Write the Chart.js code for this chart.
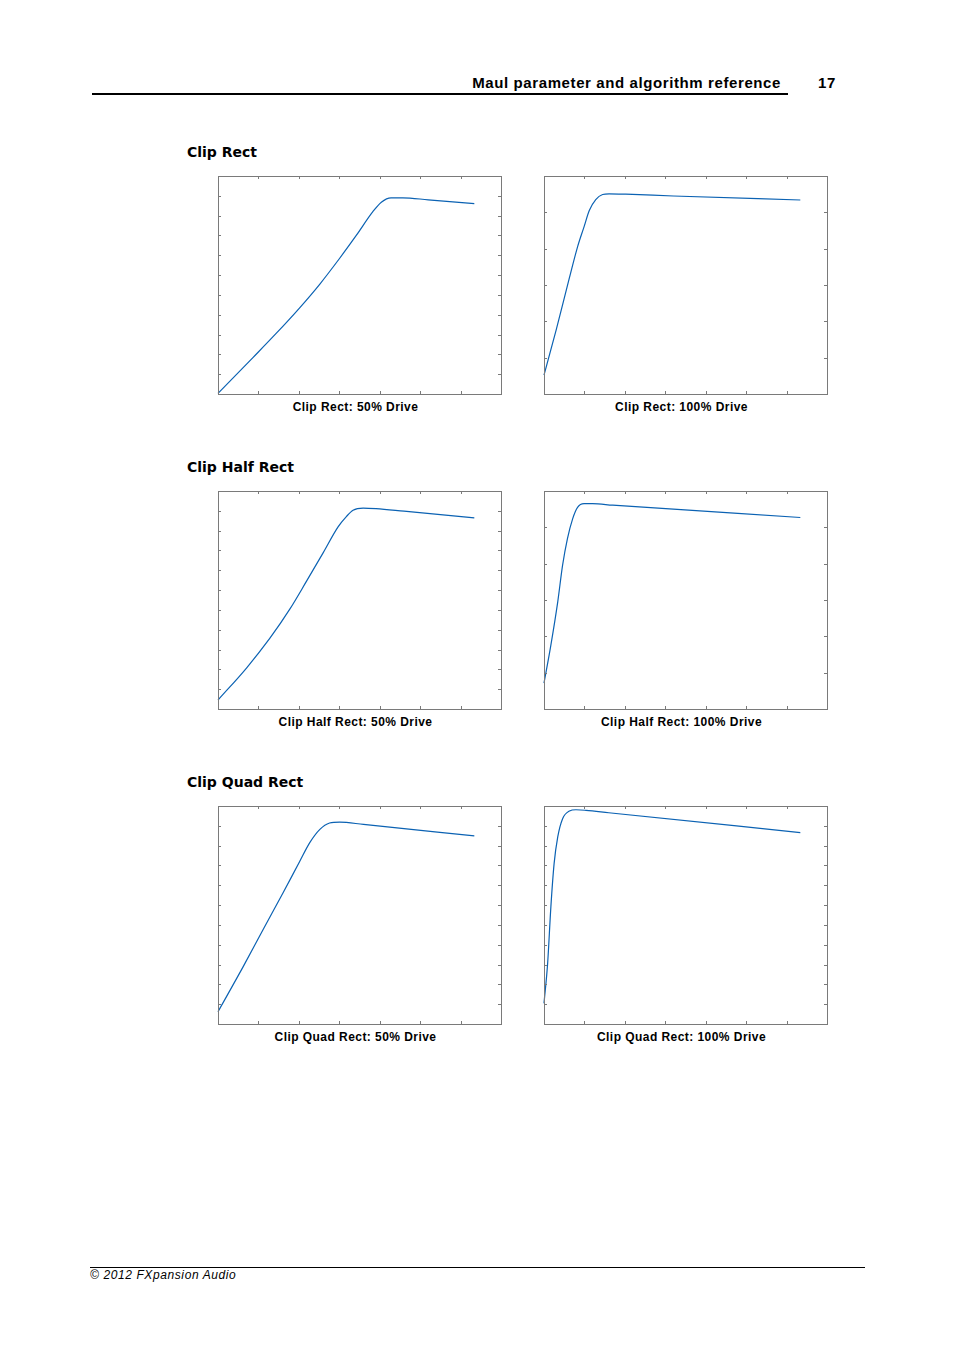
<!DOCTYPE html>
<html>
<head>
<meta charset="utf-8">
<script src="https://cdn.jsdelivr.net/npm/chart.js@4.4.1/dist/chart.umd.min.js"></script>
<style>
  body { margin: 0; background: #fff; width: 954px; height: 1351px; position: relative; font-family: "Liberation Sans", Arial, sans-serif; }
  .abs { position: absolute; }
  .head { font-weight: bold; font-size: 15px; color: #000; letter-spacing: 0.6px; }
  .sect { font-family: "DejaVu Sans", Verdana, sans-serif; font-weight: bold; font-size: 14px; left: 187px; }
  .cap { font-weight: bold; font-size: 12px; width: 283px; text-align: center; letter-spacing: 0.45px; }
  canvas { position: absolute; }
</style>
</head>
<body>
<div class="abs head" style="right:173px; top:74px;">Maul parameter and algorithm reference</div>
<div class="abs head" style="left:818px; top:74px;">17</div>
<div class="abs" style="left:92px; top:93px; width:696px; height:2px; background:#000;"></div>

<div class="abs sect" style="top:144px;">Clip Rect</div>
<div class="abs sect" style="top:459px;">Clip Half Rect</div>
<div class="abs sect" style="top:774px;">Clip Quad Rect</div>

<canvas id="c0"></canvas><canvas id="c1"></canvas>
<canvas id="c2"></canvas><canvas id="c3"></canvas>
<canvas id="c4"></canvas><canvas id="c5"></canvas>

<div class="abs cap" style="left:214px; top:400px;">Clip Rect: 50% Drive</div>
<div class="abs cap" style="left:540px; top:400px;">Clip Rect: 100% Drive</div>
<div class="abs cap" style="left:214px; top:715px;">Clip Half Rect: 50% Drive</div>
<div class="abs cap" style="left:540px; top:715px;">Clip Half Rect: 100% Drive</div>
<div class="abs cap" style="left:214px; top:1030px;">Clip Quad Rect: 50% Drive</div>
<div class="abs cap" style="left:540px; top:1030px;">Clip Quad Rect: 100% Drive</div>

<div class="abs" style="left:90px; top:1267px; width:775px; height:1px; background:#000;"></div>
<div class="abs" style="left:90px; top:1268px; font-size:12px; font-style:italic; letter-spacing:0.6px;">© 2012 FXpansion Audio</div>

<script>
// tick positions (no labels drawn)
const xTicks = [0, 1, 2, 3, 4, 5, 6, 7];
const yTicks11 = [0, 1, 2, 3, 4, 5, 6, 7, 8, 9, 10, 11];
const yTicks6 = [0, 1, 2, 3, 4, 5, 6];

// Clip Rect
const rect50X = [0, 0.87, 1.45, 2.02, 2.52, 3.01, 3.42, 3.83, 4.04, 4.28, 4.57, 5.2, 6.34];
const rect50Y = [0.03, 1.85, 3.08, 4.35, 5.55, 6.85, 8.0, 9.2, 9.68, 9.9, 9.9, 9.8, 9.61];
const rect100X = [0, 0.30, 0.62, 0.83, 0.99, 1.12, 1.28, 1.45, 1.61, 2.02, 3.2, 6.34];
const rect100Y = [0.52, 1.76, 3.16, 4.05, 4.60, 5.05, 5.35, 5.49, 5.51, 5.50, 5.45, 5.34];
// Clip Half Rect
const half50X = [0, 0.71, 1.28, 1.78, 2.19, 2.60, 2.97, 3.18, 3.34, 3.59, 3.91, 4.6, 6.34];
const half50Y = [0.45, 2.08, 3.56, 5.05, 6.45, 7.88, 9.19, 9.72, 10.03, 10.14, 10.11, 9.98, 9.64];
const half100X = [0, 0.17, 0.34, 0.46, 0.58, 0.71, 0.83, 0.99, 1.20, 1.7, 6.34];
const half100Y = [0.71, 1.76, 2.95, 3.96, 4.69, 5.24, 5.55, 5.65, 5.65, 5.61, 5.27];
// Clip Quad Rect
const quad50X = [0, 0.63, 1.12, 1.61, 2.02, 2.27, 2.52, 2.76, 3.01, 3.6, 6.34];
const quad50Y = [0.62, 2.92, 4.78, 6.62, 8.20, 9.15, 9.82, 10.14, 10.19, 10.07, 9.49];
const quad100X = [0, 0.09, 0.17, 0.25, 0.34, 0.46, 0.63, 0.79, 1.04, 1.6, 6.34];
const quad100Y = [1.04, 3.06, 5.91, 8.09, 9.44, 10.36, 10.75, 10.81, 10.78, 10.66, 9.66];

const PAD = 4;
const panels = [
  { id: 'c0', left: 218, top: 176, xs: rect50X, ys: rect50Y, yTicks: yTicks11 },
  { id: 'c1', left: 544, top: 176, xs: rect100X, ys: rect100Y, yTicks: yTicks6 },
  { id: 'c2', left: 218, top: 491, xs: half50X, ys: half50Y, yTicks: yTicks11 },
  { id: 'c3', left: 544, top: 491, xs: half100X, ys: half100Y, yTicks: yTicks6 },
  { id: 'c4', left: 218, top: 806, xs: quad50X, ys: quad50Y, yTicks: yTicks11 },
  { id: 'c5', left: 544, top: 806, xs: quad100X, ys: quad100Y, yTicks: yTicks11 }
];

// frame with inward tick marks on all four sides
const framePlugin = {
  id: 'frame',
  afterDraw(chart, args, opts) {
    const { ctx, chartArea: a, scales } = chart;
    const L = 3;
    ctx.save();
    ctx.strokeStyle = '#7a7a7a';
    ctx.lineWidth = 1;
    ctx.beginPath();
    xTicks.forEach(v => {
      const x = Math.round(scales.x.getPixelForValue(v)) + 0.5;
      ctx.moveTo(x, a.bottom); ctx.lineTo(x, a.bottom - L);
      ctx.moveTo(x, a.top); ctx.lineTo(x, a.top + L);
    });
    opts.yTicks.forEach(v => {
      const y = Math.round(scales.y.getPixelForValue(v)) + 0.5;
      ctx.moveTo(a.left, y); ctx.lineTo(a.left + L, y);
      ctx.moveTo(a.right, y); ctx.lineTo(a.right - L, y);
    });
    ctx.stroke();
    ctx.strokeRect(Math.round(a.left) + 0.5, Math.round(a.top) + 0.5, Math.round(a.right - a.left), Math.round(a.bottom - a.top));
    ctx.restore();
  }
};

panels.forEach(p => {
  const cv = document.getElementById(p.id);
  cv.style.left = (p.left - PAD) + 'px';
  cv.style.top = (p.top - PAD) + 'px';
  cv.style.width = (283 + PAD * 2) + 'px';
  cv.style.height = (218 + PAD * 2) + 'px';
  const yMax = p.yTicks[p.yTicks.length - 1];
  new Chart(cv.getContext('2d'), {
    type: 'line',
    data: {
      datasets: [{
        data: p.xs.map((x, i) => ({ x: x, y: p.ys[i] })),
        borderColor: '#0b62b3',
        borderWidth: 1.2,
        pointRadius: 0,
        cubicInterpolationMode: 'monotone',
        fill: false,
        clip: false
      }]
    },
    options: {
      responsive: false,
      animation: false,
      layout: { padding: PAD },
      plugins: { legend: { display: false }, tooltip: { enabled: false }, frame: { yTicks: p.yTicks } },
      scales: {
        x: { type: 'linear', display: false, min: 0, max: xTicks[xTicks.length - 1] },
        y: { type: 'linear', display: false, min: 0, max: yMax }
      }
    },
    plugins: [framePlugin]
  });
});
</script>
</body>
</html>
